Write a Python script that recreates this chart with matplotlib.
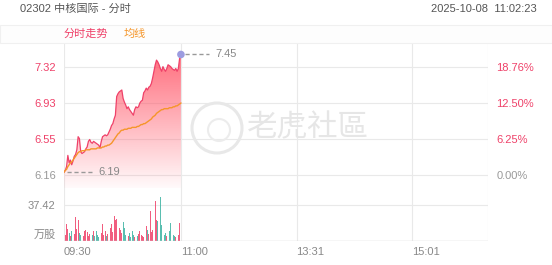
import numpy as np
import matplotlib
matplotlib.use("Agg")
import matplotlib.pyplot as plt
from matplotlib.patches import Rectangle, Ellipse

plt.rcParams['font.family'] = ['Liberation Sans', 'Noto Sans CJK SC', 'DejaVu Sans']

# 分时价格 (每分钟, 09:30 起)
price = [6.19, 6.21, 6.25, 6.37, 6.29, 6.32, 6.27, 6.31, 6.36, 6.38,
         6.43, 6.57, 6.55, 6.41, 6.39, 6.40, 6.41, 6.44, 6.46, 6.52,
         6.54, 6.51, 6.50, 6.52, 6.51, 6.50, 6.49, 6.48, 6.45, 6.52,
         6.57, 6.58, 6.59, 6.58, 6.59, 6.62, 6.65, 6.69, 6.71, 6.76,
         6.80, 7.00, 7.03, 7.05, 7.06, 7.07, 6.98, 6.94, 6.91, 6.87,
         6.89, 6.86, 6.84, 6.82, 6.80, 6.86, 6.89, 6.88, 6.89, 6.93,
         6.95, 6.96, 7.04, 7.06, 7.09, 7.07, 7.10, 7.11, 7.14, 7.20,
         7.27, 7.34, 7.39, 7.37, 7.34, 7.30, 7.27, 7.32, 7.29, 7.27,
         7.30, 7.34, 7.33, 7.32, 7.30, 7.29, 7.28, 7.30, 7.27, 7.30,
         7.41, 7.45]
# 均线
avg = [6.19, 6.21, 6.22, 6.25, 6.27, 6.29, 6.30, 6.32, 6.34, 6.36,
       6.38, 6.40, 6.41, 6.41, 6.42, 6.42, 6.42, 6.43, 6.43, 6.43,
       6.43, 6.44, 6.44, 6.44, 6.44, 6.44, 6.45, 6.45, 6.45, 6.45,
       6.46, 6.46, 6.47, 6.47, 6.48, 6.48, 6.49, 6.50, 6.52, 6.54,
       6.56, 6.58, 6.60, 6.61, 6.63, 6.64, 6.64, 6.65, 6.65, 6.65,
       6.66, 6.66, 6.66, 6.67, 6.67, 6.67, 6.67, 6.68, 6.68, 6.69,
       6.70, 6.70, 6.71, 6.71, 6.72, 6.73, 6.74, 6.75, 6.76, 6.78,
       6.79, 6.80, 6.82, 6.83, 6.84, 6.85, 6.86, 6.86, 6.87, 6.87,
       6.87, 6.87, 6.88, 6.88, 6.88, 6.89, 6.89, 6.90, 6.90, 6.91,
       6.92, 6.93]
# 成交量 (万股)
volume = [3, 6, 18, 12, 8, 5, 10, 14, 7, 25,
          12, 22, 8, 6, 4, 5, 10, 11, 9, 5,
          7, 4, 6, 10, 5, 10, 6, 4, 3, 8,
          18, 6, 10, 5, 7, 6, 13, 18, 9, 26,
          22, 23, 26, 14, 11, 8, 20, 13, 6, 8,
          5, 8, 4, 10, 6, 4, 3, 5, 7, 10,
          6, 5, 4, 8, 16, 11, 7, 31, 9, 11,
          6, 42, 22, 21, 9, 46, 17, 11, 6, 8,
          5, 8, 10, 19, 4, 6, 5, 4, 5, 6,
          19, 54]

prev_close = 6.16
open_price = 6.19
price_ticks = [6.16, 6.55, 6.93, 7.32]
pct_labels = ['0.00%', '6.25%', '12.50%', '18.76%']
vol_tick = 37.42
time_ticks = [0, 91, 181, 271]
time_labels = ['09:30', '11:00', '13:31', '15:01']
total_minutes = 330

RED = '#ef4169'
GREEN = '#3db3a3'
ORANGE = '#f5962a'
GREY = '#999999'
GRID = '#e9e9e9'

W, H = 552, 265
fig = plt.figure(figsize=(W / 100, H / 100), dpi=100)


def fx(x):
    return x / W


def fy(y):
    return 1 - y / H


ax = fig.add_axes([fx(64), fy(188), fx(488) - fx(64), fy(43) - fy(188)])
axv = fig.add_axes([fx(64), fy(241), fx(488) - fx(64), fy(188) - fy(241)])

x = np.arange(len(price))
ylo, yhi = 6.021, 7.573

# header band
fig.patches.append(Rectangle((0, fy(43)), 1, fy(25) - fy(43), transform=fig.transFigure,
                             facecolor='#fdfdfd', edgecolor='#f0f0f0', lw=0.8, zorder=0))

# watermark
fig.patches.append(Ellipse((fx(217), fy(128)), 50 / W, 50 / H, transform=fig.transFigure,
                           fill=False, edgecolor='#e8e8e8', lw=2.2, zorder=0))
fig.patches.append(Ellipse((fx(219), fy(130)), 22 / W, 22 / H, transform=fig.transFigure,
                           fill=False, edgecolor='#ececec', lw=1.5, zorder=0))
fig.text(fx(247), fy(128), '老虎社區', fontsize=22, color='#e6e6e6', va='center',
         family=['Noto Sans CJK TC', 'DejaVu Sans'], zorder=0)

# price panel
for a in (ax, axv):
    for s in a.spines.values():
        s.set_visible(False)
    a.set_xlim(0, total_minutes)
    a.patch.set_alpha(0)
    for t in time_ticks + [total_minutes]:
        a.axvline(t, color=GRID, lw=0.8, zorder=0)
ax.set_ylim(ylo, yhi)
for p in price_ticks:
    ax.axhline(p, color=GRID, lw=0.8, zorder=0)

# gradient fill under price
poly = ax.fill_between(x, price, ylo, color='none')
grad = np.zeros((256, 1, 4))
grad[:, 0, 0] = 1.0
grad[:, 0, 1] = 0.33
grad[:, 0, 2] = 0.40
grad[:, 0, 3] = np.linspace(0.03, 0.85, 256)
img = ax.imshow(grad, extent=[0, x[-1], ylo, max(price)], aspect='auto', origin='lower', zorder=1)
img.set_clip_path(poly.get_paths()[0], transform=ax.transData)

ax.plot(x, price, color=RED, lw=0.9, zorder=3)
ax.plot(x, avg, color=ORANGE, lw=1.0, zorder=3)
ax.scatter([x[-1]], [price[-1]], s=30, color='#9c9ce0', zorder=4, edgecolors='none')

# last / open annotations
ax.plot([x[-1] + 3, x[-1] + 22], [price[-1], price[-1]], ls=(0, (3, 2)), color=GREY, lw=1)
ax.text(x[-1] + 27, price[-1], '%.2f' % price[-1], color='#888888', fontsize=8, va='center')
ax.plot([2, 23], [open_price, open_price], ls=(0, (3, 2)), color=GREY, lw=1)
ax.text(27, open_price, '%.2f' % open_price, color='#888888', fontsize=8, va='center')

ax.set_yticks(price_ticks)
ax.set_yticklabels(['%.2f' % p for p in price_ticks], fontsize=8)
for lbl, p in zip(ax.get_yticklabels(), price_ticks):
    lbl.set_color(GREY if p == prev_close else RED)
ax.tick_params(axis='y', length=0, pad=6)
ax.set_xticks([])

axr = ax.twinx()
axr.set_ylim(ylo, yhi)
for s in axr.spines.values():
    s.set_visible(False)
axr.set_yticks(price_ticks)
axr.set_yticklabels(pct_labels, fontsize=8)
for lbl, p in zip(axr.get_yticklabels(), price_ticks):
    lbl.set_color(GREY if p == prev_close else RED)
axr.tick_params(axis='y', length=0, pad=6)

# volume panel
colors = [RED] + [RED if price[i] >= price[i - 1] else GREEN for i in range(1, len(price))]
axv.bar(x, volume, width=0.65, color=colors, alpha=0.85, zorder=2)
axv.set_ylim(0, 55.1)
axv.axhline(vol_tick, color=GRID, lw=0.8, zorder=0)
axv.axhline(0, color='#d6d6d6', lw=1, zorder=3)
axv.set_yticks([vol_tick])
axv.set_yticklabels(['%.2f' % vol_tick], fontsize=8, color='#888888')
axv.tick_params(axis='y', length=0, pad=6)
axv.text(-6, 6, '万股', fontsize=8, color='#888888', ha='right', va='center')
axv.set_xticks(time_ticks)
axv.set_xticklabels(time_labels, fontsize=8, color='#888888', ha='left')
axv.tick_params(axis='x', length=0, pad=4)

# header texts
fig.text(fx(20), fy(9), '02302 中核国际 - 分时', fontsize=8, color='#555555', va='center')
fig.text(fx(537), fy(9), '2025-10-08  11:02:23', fontsize=8, color='#555555', va='center', ha='right')
fig.text(fx(64), fy(34), '分时走势', fontsize=8, color=RED, va='center')
fig.text(fx(124), fy(34), '均线', fontsize=8, color=ORANGE, va='center')

fig.savefig('out.png', dpi=100, facecolor='white')
